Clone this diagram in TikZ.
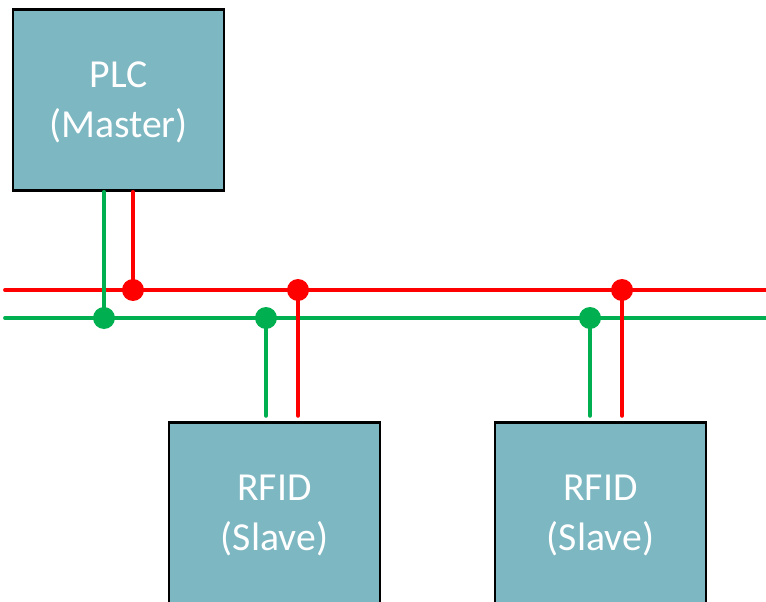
\documentclass[tikz,border=0pt]{standalone}
\usepackage{fontspec}
\setmainfont{Carlito}
\usetikzlibrary{positioning}
\definecolor{boxfill}{RGB}{125,183,194}
\definecolor{busred}{RGB}{255,0,0}
\definecolor{busgreen}{RGB}{0,176,80}

\begin{document}
\begin{tikzpicture}[x=0.02cm,y=-0.02cm,
	unit/.style={draw=black,line width=1.6pt,fill=boxfill,minimum width=4.22cm,
		minimum height=3.62cm,align=center,text=white,text depth=0pt,
		font=\fontsize{22.6}{28.5}\selectfont},
	wire/.style={line width=2.2pt,line cap=round}]
	\useasboundingbox (0,0) rectangle (766,601);
	% master and slaves
	\node[unit] (plc) at (118.5,100) {PLC\\(Master)};
	\node[unit] (rfid1) at (274.5,513) {RFID\\(Slave)};
	\node[unit] (rfid2) at (600.5,513) {RFID\\(Slave)};
	% bus ends and taps
	\coordinate (redL) at (5,290);
	\coordinate (redR) at (770,290);
	\coordinate (grnL) at (5,318);
	\coordinate (grnR) at (770,318);
	\coordinate (r0) at (133,290);
	\coordinate (r1) at (298,290);
	\coordinate (r2) at (622,290);
	\coordinate (g0) at (104,318);
	\coordinate (g1) at (266,318);
	\coordinate (g2) at (590,318);
	% two bus wires
	\draw[wire,busred] (redL) -- (redR);
	\draw[wire,busgreen] (grnL) -- (grnR);
	% drops
	\draw[wire,busgreen] (plc.south -| g0) -- (g0);
	\draw[wire,busred] (plc.south -| r0) -- (r0);
	\draw[wire,busgreen,shorten >=3pt] (g1) -- (rfid1.north -| g1);
	\draw[wire,busred,shorten >=3pt] (r1) -- (rfid1.north -| r1);
	\draw[wire,busgreen,shorten >=3pt] (g2) -- (rfid2.north -| g2);
	\draw[wire,busred,shorten >=3pt] (r2) -- (rfid2.north -| r2);
	% junction dots
	\foreach \p in {r0,r1,r2}
		\fill[busred] (\p) circle (0.22cm);
	\foreach \p in {g0,g1,g2}
		\fill[busgreen] (\p) circle (0.22cm);
\end{tikzpicture}
\end{document}
